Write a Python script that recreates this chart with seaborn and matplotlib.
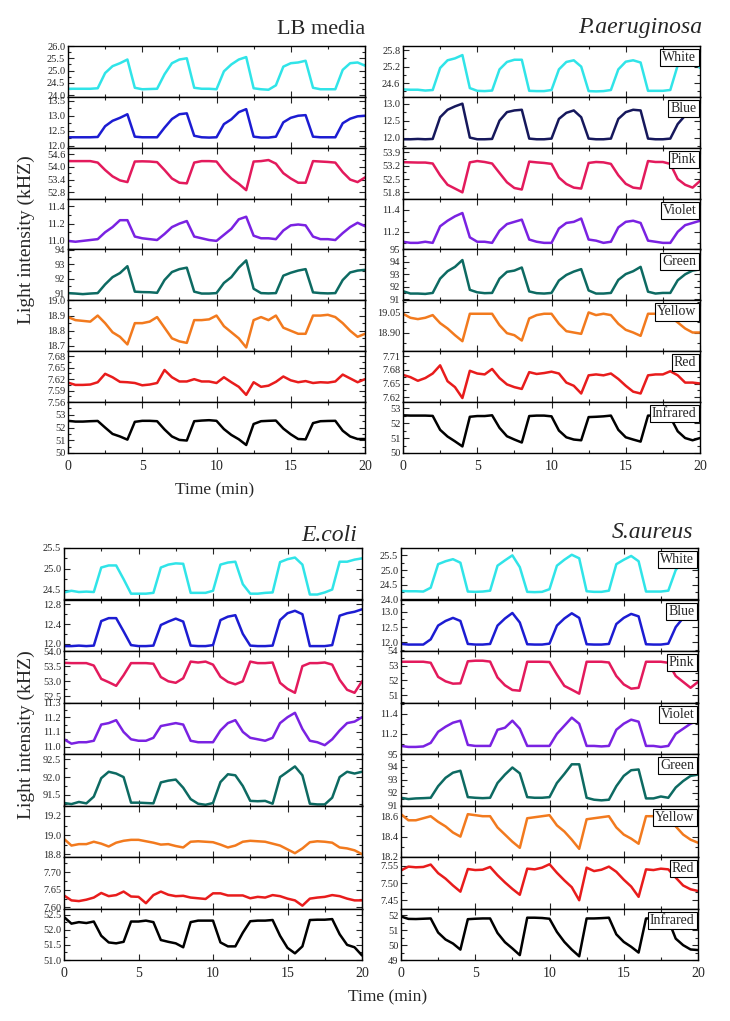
import numpy as np
import matplotlib
matplotlib.use('Agg')
import matplotlib.pyplot as plt
from matplotlib.ticker import FixedLocator, AutoMinorLocator, FormatStrFormatter, MultipleLocator
import seaborn as sns

sns.set_style('ticks')
plt.rcParams['font.family'] = ['Liberation Serif', 'DejaVu Serif']

# sampling grid (minutes)
minutes = np.linspace(0, 20, 41)

channels = ['White', 'Blue', 'Pink', 'Violet', 'Green', 'Yellow', 'Red', 'Infrared']

# ---------------- LB media ----------------
lb_white = [
    24.26, 24.26, 24.26, 24.26, 24.28, 24.90, 25.18, 25.30, 25.45, 24.30,
    24.24, 24.25, 24.26, 24.85, 25.30, 25.45, 25.50, 24.30, 24.26, 24.26,
    24.24, 24.97, 25.25, 25.45, 25.55, 24.28, 24.24, 24.22, 24.40, 25.16,
    25.30, 25.33, 25.40, 24.30, 24.24, 24.24, 24.24, 25.03, 25.30, 25.33,
    25.20]
lb_blue = [
    12.28, 12.28, 12.28, 12.28, 12.29, 12.65, 12.83, 12.93, 13.05, 12.30,
    12.28, 12.28, 12.28, 12.60, 12.89, 13.05, 13.08, 12.33, 12.28, 12.27,
    12.28, 12.72, 12.88, 13.12, 13.22, 12.30, 12.27, 12.27, 12.30, 12.78,
    12.93, 13.00, 13.02, 12.30, 12.28, 12.28, 12.28, 12.75, 12.90, 12.98,
    13.00]
lb_pink = [
    54.27, 54.27, 54.27, 54.27, 54.20, 53.85, 53.55, 53.36, 53.28, 54.25,
    54.26, 54.25, 54.22, 53.85, 53.45, 53.25, 53.22, 54.20, 54.27, 54.27,
    54.25, 53.80, 53.45, 53.20, 52.90, 54.25, 54.27, 54.32, 54.15, 53.70,
    53.45, 53.25, 53.25, 54.27, 54.25, 54.23, 54.20, 53.75, 53.40, 53.28,
    53.50]
lb_violet = [
    11.00, 10.99, 11.00, 11.01, 11.02, 11.10, 11.16, 11.24, 11.24, 11.05,
    11.03, 11.02, 11.01, 11.08, 11.16, 11.20, 11.23, 11.05, 11.03, 11.01,
    11.00, 11.07, 11.14, 11.25, 11.28, 11.06, 11.03, 11.03, 11.02, 11.12,
    11.18, 11.19, 11.18, 11.05, 11.02, 11.02, 11.01, 11.09, 11.16, 11.21,
    11.17]
lb_green = [
    91.00, 90.97, 90.93, 90.97, 91.00, 91.60, 92.10, 92.38, 92.85, 91.10,
    91.07, 91.06, 91.02, 91.90, 92.45, 92.65, 92.75, 91.10, 90.97, 90.97,
    91.00, 91.70, 92.10, 92.75, 93.25, 91.30, 91.00, 90.98, 91.00, 92.20,
    92.40, 92.55, 92.65, 91.05, 91.00, 90.98, 91.00, 91.90, 92.42, 92.55,
    92.60]
lb_yellow = [
    18.890, 18.870, 18.865, 18.860, 18.900, 18.850, 18.790, 18.760, 18.710, 18.850,
    18.850, 18.860, 18.890, 18.820, 18.750, 18.730, 18.720, 18.870, 18.870, 18.875,
    18.900, 18.830, 18.790, 18.750, 18.690, 18.870, 18.890, 18.870, 18.900, 18.820,
    18.800, 18.780, 18.780, 18.900, 18.900, 18.905, 18.890, 18.850, 18.800, 18.760,
    18.780]
lb_red = [
    7.611, 7.605, 7.605, 7.606, 7.612, 7.634, 7.625, 7.613, 7.612, 7.610,
    7.604, 7.606, 7.610, 7.644, 7.625, 7.614, 7.614, 7.620, 7.614, 7.614,
    7.610, 7.625, 7.612, 7.600, 7.579, 7.612, 7.600, 7.603, 7.613, 7.627,
    7.617, 7.612, 7.615, 7.610, 7.612, 7.611, 7.614, 7.632, 7.622, 7.612,
    7.620]
lb_infrared = [
    52.53, 52.47, 52.47, 52.50, 52.52, 52.00, 51.50, 51.30, 51.05, 52.45,
    52.53, 52.53, 52.50, 51.85, 51.30, 51.03, 50.98, 52.50, 52.55, 52.58,
    52.53, 51.88, 51.42, 51.08, 50.63, 52.28, 52.50, 52.53, 52.55, 51.92,
    51.47, 51.10, 51.07, 52.35, 52.50, 52.52, 52.53, 51.75, 51.30, 51.10,
    51.10]

# ---------------- P. aeruginosa ----------------
pa_white = [
    24.37, 24.36, 24.36, 24.33, 24.35, 25.15, 25.43, 25.50, 25.62, 24.42,
    24.32, 24.31, 24.33, 25.10, 25.37, 25.45, 25.45, 24.32, 24.31, 24.31,
    24.35, 25.10, 25.37, 25.43, 25.20, 24.31, 24.30, 24.31, 24.35, 25.10,
    25.38, 25.43, 25.35, 24.32, 24.32, 24.32, 24.35, 25.25, 25.45, 25.45,
    25.15]
pa_blue = [
    11.95, 11.95, 11.96, 11.95, 11.96, 12.60, 12.82, 12.92, 13.00, 12.00,
    11.95, 11.95, 11.96, 12.50, 12.75, 12.80, 12.82, 11.97, 11.95, 11.95,
    11.97, 12.55, 12.73, 12.80, 12.60, 11.97, 11.95, 11.95, 11.97, 12.55,
    12.75, 12.82, 12.80, 11.97, 11.95, 11.95, 11.97, 12.40, 12.65, 12.70,
    12.63]
pa_pink = [
    53.39, 53.38, 53.37, 53.37, 53.32, 52.70, 52.20, 52.00, 51.80, 53.38,
    53.45, 53.40, 53.32, 52.82, 52.33, 52.03, 51.95, 53.42, 53.38, 53.35,
    53.30, 52.58, 52.24, 52.05, 52.00, 53.35, 53.40, 53.38, 53.30, 52.70,
    52.25, 52.05, 52.00, 53.45, 53.40, 53.40, 53.30, 52.50, 52.20, 52.05,
    52.40]
pa_violet = [
    11.11, 11.10, 11.10, 11.11, 11.10, 11.25, 11.30, 11.34, 11.37, 11.15,
    11.11, 11.11, 11.10, 11.21, 11.27, 11.29, 11.31, 11.13, 11.11, 11.10,
    11.10, 11.23, 11.28, 11.29, 11.32, 11.13, 11.12, 11.10, 11.11, 11.24,
    11.29, 11.30, 11.28, 11.12, 11.11, 11.10, 11.10, 11.20, 11.26, 11.28,
    11.30]
pa_green = [
    91.64, 91.45, 91.45, 91.42, 91.50, 92.65, 93.25, 93.60, 94.15, 91.75,
    91.55, 91.48, 91.50, 92.65, 93.20, 93.30, 93.55, 91.62, 91.48, 91.45,
    91.50, 92.50, 92.95, 93.22, 93.42, 91.70, 91.45, 91.45, 91.50, 92.55,
    93.02, 93.25, 93.60, 91.60, 91.45, 91.50, 91.50, 92.52, 93.00, 93.30,
    93.40]
pa_yellow = [
    19.040, 19.010, 19.000, 19.010, 19.030, 18.970, 18.930, 18.880, 18.835, 19.040,
    19.040, 19.040, 19.040, 18.955, 18.895, 18.880, 18.840, 19.005, 19.030, 19.040,
    19.040, 18.965, 18.910, 18.900, 18.890, 19.050, 19.030, 19.040, 19.030, 18.965,
    18.920, 18.900, 18.875, 19.040, 19.040, 19.040, 19.020, 18.975, 18.930, 18.900,
    18.900]
pa_red = [
    7.669, 7.664, 7.656, 7.662, 7.672, 7.690, 7.655, 7.642, 7.618, 7.678,
    7.672, 7.670, 7.682, 7.662, 7.648, 7.642, 7.638, 7.675, 7.671, 7.673,
    7.676, 7.672, 7.652, 7.645, 7.628, 7.668, 7.670, 7.668, 7.672, 7.660,
    7.645, 7.632, 7.628, 7.668, 7.670, 7.670, 7.677, 7.668, 7.652, 7.652,
    7.650]
pa_infrared = [
    52.52, 52.50, 52.50, 52.50, 52.48, 51.55, 51.10, 50.78, 50.44, 52.42,
    52.47, 52.47, 52.52, 51.68, 51.12, 50.90, 50.70, 52.47, 52.50, 52.50,
    52.45, 51.50, 51.05, 50.90, 50.85, 52.40, 52.42, 52.45, 52.50, 51.55,
    51.05, 50.90, 50.76, 52.50, 52.50, 52.50, 52.40, 51.45, 51.00, 50.85,
    51.00]

# ---------------- E. coli ----------------
ec_white = [
    24.43, 24.47, 24.44, 24.45, 24.44, 25.03, 25.08, 25.08, 24.75, 24.40,
    24.40, 24.40, 24.42, 25.03, 25.10, 25.13, 25.12, 24.42, 24.42, 24.42,
    24.47, 25.10, 25.15, 25.17, 24.63, 24.40, 24.40, 24.42, 24.43, 25.16,
    25.23, 25.27, 25.10, 24.38, 24.38, 24.43, 24.50, 25.17, 25.17, 25.22,
    25.25]
ec_blue = [
    11.95, 11.95, 11.96, 11.95, 11.96, 12.46, 12.52, 12.52, 12.25, 11.97,
    11.95, 11.95, 11.96, 12.38, 12.45, 12.51, 12.45, 11.96, 11.95, 11.95,
    11.97, 12.48, 12.55, 12.58, 12.20, 11.96, 11.95, 11.95, 11.96, 12.48,
    12.62, 12.67, 12.60, 11.95, 11.95, 11.95, 11.97, 12.57, 12.62, 12.65,
    12.70]
ec_pink = [
    53.61, 53.60, 53.60, 53.60, 53.52, 53.08, 52.97, 52.85, 53.20, 53.60,
    53.60, 53.60, 53.58, 53.14, 53.00, 52.95, 53.10, 53.65, 53.62, 53.65,
    53.55, 53.15, 52.98, 52.90, 53.00, 53.65, 53.60, 53.60, 53.62, 52.95,
    52.75, 52.62, 53.50, 53.60, 53.60, 53.62, 53.55, 53.05, 52.72, 52.62,
    53.00]
ec_violet = [
    11.05, 11.02, 11.03, 11.03, 11.04, 11.15, 11.16, 11.18, 11.10, 11.05,
    11.04, 11.04, 11.06, 11.14, 11.15, 11.16, 11.15, 11.04, 11.03, 11.03,
    11.03, 11.11, 11.16, 11.18, 11.10, 11.06, 11.05, 11.04, 11.06, 11.16,
    11.20, 11.23, 11.12, 11.04, 11.03, 11.01, 11.05, 11.11, 11.16, 11.17,
    11.20]
ec_green = [
    91.27, 91.24, 91.30, 91.26, 91.45, 91.97, 92.15, 92.10, 92.00, 91.28,
    91.28, 91.27, 91.26, 91.85, 91.90, 91.93, 91.70, 91.38, 91.25, 91.22,
    91.27, 91.86, 92.08, 92.05, 91.75, 91.33, 91.32, 91.33, 91.25, 92.00,
    92.15, 92.30, 92.05, 91.25, 91.23, 91.23, 91.42, 92.00, 92.15, 92.10,
    92.15]
ec_yellow = [
    18.960, 18.890, 18.905, 18.905, 18.930, 18.910, 18.880, 18.920, 18.940, 18.950,
    18.950, 18.935, 18.920, 18.900, 18.905, 18.885, 18.870, 18.930, 18.935, 18.930,
    18.925, 18.900, 18.870, 18.890, 18.930, 18.940, 18.935, 18.930, 18.910, 18.890,
    18.850, 18.810, 18.860, 18.925, 18.935, 18.930, 18.920, 18.870, 18.860, 18.840,
    18.800]
ec_red = [
    7.634, 7.620, 7.618, 7.622, 7.628, 7.641, 7.632, 7.635, 7.645, 7.631,
    7.630, 7.612, 7.635, 7.645, 7.636, 7.632, 7.633, 7.628, 7.626, 7.624,
    7.640, 7.640, 7.634, 7.634, 7.634, 7.626, 7.630, 7.628, 7.635, 7.632,
    7.625, 7.620, 7.605, 7.625, 7.628, 7.630, 7.635, 7.632, 7.625, 7.620,
    7.620]
ec_infrared = [
    52.42, 52.20, 52.25, 52.22, 52.27, 51.80, 51.58, 51.55, 51.60, 52.27,
    52.27, 52.30, 52.25, 51.66, 51.60, 51.55, 51.42, 52.25, 52.30, 52.30,
    52.30, 51.58, 51.45, 51.45, 51.90, 52.28, 52.30, 52.30, 52.32, 51.80,
    51.40, 51.22, 51.45, 52.32, 52.33, 52.33, 52.35, 51.85, 51.50, 51.42,
    51.15]

# ---------------- S. aureus ----------------
sa_white = [
    24.29, 24.28, 24.28, 24.27, 24.40, 25.20, 25.30, 25.37, 25.25, 24.27,
    24.26, 24.27, 24.30, 25.15, 25.33, 25.50, 25.10, 24.26, 24.25, 24.26,
    24.35, 25.15, 25.35, 25.52, 25.40, 24.28, 24.26, 24.26, 24.30, 25.20,
    25.35, 25.48, 25.30, 24.27, 24.27, 24.27, 24.30, 25.00, 25.30, 25.40,
    25.05]
sa_blue = [
    11.95, 11.93, 11.93, 11.93, 12.10, 12.55, 12.70, 12.80, 12.70, 11.95,
    11.93, 11.93, 11.95, 12.55, 12.78, 12.96, 12.65, 11.94, 11.93, 11.93,
    11.96, 12.55, 12.78, 12.95, 12.80, 11.94, 11.93, 11.93, 11.95, 12.60,
    12.80, 12.93, 12.85, 11.94, 11.93, 11.93, 11.96, 12.50, 12.80, 12.95,
    12.90]
sa_pink = [
    53.27, 53.27, 53.27, 53.27, 53.20, 52.24, 51.94, 51.78, 51.80, 53.30,
    53.34, 53.34, 53.28, 52.20, 51.67, 51.35, 51.30, 53.27, 53.27, 53.27,
    53.25, 52.40, 51.63, 51.37, 51.10, 53.27, 53.27, 53.27, 53.22, 52.30,
    51.73, 51.44, 51.50, 53.27, 53.27, 53.27, 53.20, 52.30, 51.90, 51.50,
    51.90]
sa_violet = [
    11.08, 11.07, 11.07, 11.075, 11.11, 11.22, 11.27, 11.31, 11.33, 11.09,
    11.08, 11.08, 11.08, 11.24, 11.26, 11.33, 11.25, 11.08, 11.08, 11.08,
    11.08, 11.20, 11.28, 11.36, 11.30, 11.08, 11.08, 11.075, 11.08, 11.24,
    11.30, 11.34, 11.32, 11.08, 11.08, 11.07, 11.08, 11.20, 11.25, 11.30,
    11.33]
sa_green = [
    91.60, 91.50, 91.55, 91.57, 91.60, 92.50, 93.15, 93.55, 93.70, 91.65,
    91.60, 91.57, 91.60, 92.75, 93.40, 93.95, 93.50, 91.65, 91.60, 91.60,
    91.65, 92.75, 93.45, 94.20, 94.20, 91.60, 91.45, 91.40, 91.45, 92.50,
    93.30, 93.74, 93.80, 91.55, 91.55, 91.70, 91.60, 92.40, 92.90, 93.30,
    93.40]
sa_yellow = [
    18.620, 18.560, 18.560, 18.580, 18.600, 18.545, 18.500, 18.440, 18.400, 18.620,
    18.610, 18.600, 18.600, 18.490, 18.420, 18.350, 18.290, 18.580, 18.590, 18.600,
    18.610, 18.510, 18.450, 18.370, 18.280, 18.570, 18.580, 18.590, 18.600, 18.490,
    18.420, 18.380, 18.330, 18.600, 18.600, 18.600, 18.580, 18.500, 18.420, 18.370,
    18.340]
sa_red = [
    7.537, 7.548, 7.546, 7.547, 7.554, 7.529, 7.513, 7.493, 7.475, 7.541,
    7.538, 7.539, 7.547, 7.523, 7.502, 7.483, 7.466, 7.542, 7.540, 7.545,
    7.555, 7.530, 7.508, 7.488, 7.450, 7.545, 7.535, 7.539, 7.548, 7.533,
    7.510, 7.490, 7.460, 7.540, 7.538, 7.542, 7.540, 7.516, 7.493, 7.482,
    7.477]
sa_infrared = [
    51.93, 51.77, 51.76, 51.78, 51.80, 50.85, 50.38, 50.11, 49.70, 51.75,
    51.78, 51.80, 51.80, 50.82, 50.20, 49.78, 49.33, 51.85, 51.85, 51.83,
    51.78, 50.89, 50.22, 49.70, 49.25, 51.80, 51.80, 51.82, 51.85, 50.73,
    50.22, 49.89, 49.50, 51.80, 51.80, 51.80, 51.70, 50.44, 50.00, 49.71,
    49.67]

# y ticks shown on each strip
lb_ticks = [[24.0, 24.5, 25.0, 25.5, 26.0], [12.0, 12.5, 13.0, 13.5], [52.8, 53.4, 54.0, 54.6],
            [11.0, 11.2, 11.4], [91, 92, 93, 94], [18.7, 18.8, 18.9, 19.0],
            [7.56, 7.59, 7.62, 7.65, 7.68], [50, 51, 52, 53]]
pa_ticks = [[24.6, 25.2, 25.8], [12.0, 12.5, 13.0], [51.8, 52.5, 53.2, 53.9],
            [11.2, 11.4], [91, 92, 93, 94, 95], [18.90, 19.05],
            [7.62, 7.65, 7.68, 7.71], [50, 51, 52, 53]]
ec_ticks = [[24.5, 25.0, 25.5], [12.0, 12.4, 12.8], [52.5, 53.0, 53.5, 54.0],
            [11.0, 11.1, 11.2, 11.3], [91.5, 92.0, 92.5], [18.8, 19.0, 19.2],
            [7.60, 7.65, 7.70], [51.0, 51.5, 52.0, 52.5]]
sa_ticks = [[24.0, 24.5, 25.0, 25.5], [12.0, 12.5, 13.0], [51, 52, 53, 54],
            [11.2, 11.4], [91, 92, 93, 94, 95], [18.2, 18.4, 18.6],
            [7.45, 7.50, 7.55], [49, 50, 51, 52]]

# axis ranges of each strip
lb_lims = [(23.93, 26.0), (11.93, 13.63), (52.5, 54.9), (10.9, 11.49),
           (90.5, 94.0), (18.665, 19.0), (7.56, 7.693), (50, 54)]
pa_lims = [(24.1, 25.95), (11.7, 13.2), (51.47, 54.15), (11.04, 11.5),
           (90.9, 95.0), (18.76, 19.14), (7.609, 7.721), (50, 53.4)]
ec_lims = [(24.26, 25.5), (11.85, 12.9), (52.3, 54.0), (10.95, 11.3),
           (91.2, 92.65), (18.77, 19.31), (7.597, 7.743), (51.0, 52.7)]
sa_lims = [(24.0, 25.75), (11.72, 13.4), (50.5, 54.0), (11.0, 11.51),
           (91.0, 95.0), (18.2, 18.705), (7.426, 7.576), (49.0, 52.47)]

lb_fmt = ['%.1f', '%.1f', '%.1f', '%.1f', '%d', '%.1f', '%.2f', '%d']
pa_fmt = ['%.1f', '%.1f', '%.1f', '%.1f', '%d', '%.2f', '%.2f', '%d']
ec_fmt = ['%.1f', '%.1f', '%.1f', '%.1f', '%.1f', '%.1f', '%.2f', '%.1f']
sa_fmt = ['%.1f', '%.1f', '%d', '%.1f', '%d', '%.1f', '%.2f', '%d']

colors = ['#30E4E8', '#1C1CD2', '#E31A5C', '#7A22E2', '#0D6A62', '#F27A1E', '#E81C1C', '#000000']
colors_pa = ['#30E4E8', '#16185C', '#E31A5C', '#7A22E2', '#0D6A62', '#F27A1E', '#E81C1C', '#000000']

W, H = 730, 1021
fig = plt.figure(figsize=(W / 100, H / 100), dpi=100)


def draw_panel(series, left, top, right, bottom, lims, ticks, fmts, cols, names):
    n = len(series)
    h = (bottom - top) / n
    for i, vals in enumerate(series):
        y0 = top + i * h
        ax = fig.add_axes([left / W, 1 - (y0 + h) / H, (right - left) / W, h / H])
        sns.lineplot(x=minutes, y=vals, ax=ax, color=cols[i], linewidth=1.8)
        ax.set_xlim(0, 20)
        ax.set_ylim(*lims[i])
        ax.yaxis.set_major_locator(FixedLocator(ticks[i]))
        ax.yaxis.set_major_formatter(FormatStrFormatter(fmts[i]))
        ax.yaxis.set_minor_locator(AutoMinorLocator(2))
        ax.xaxis.set_major_locator(MultipleLocator(5))
        ax.xaxis.set_minor_locator(MultipleLocator(2.5))
        ax.tick_params(which='both', direction='in', top=True, right=True, width=0.8)
        ax.tick_params(which='major', length=4)
        ax.tick_params(which='minor', length=2)
        ax.tick_params(axis='y', labelsize=7.5, pad=2)
        ax.tick_params(axis='x', labelsize=10, pad=5, labelbottom=(i == n - 1))
        ax.set_xlabel('')
        ax.set_ylabel('')
        for sp in ax.spines.values():
            sp.set_linewidth(1.0)
            sp.set_color('black')
        if names:
            ax.text(0.988, 0.9, channels[i], transform=ax.transAxes, ha='right', va='top',
                    fontsize=10, zorder=5,
                    bbox=dict(boxstyle='square,pad=0.15', fc='white', ec='black', lw=0.8))


draw_panel([lb_white, lb_blue, lb_pink, lb_violet, lb_green, lb_yellow, lb_red, lb_infrared],
           68, 46, 365, 453, lb_lims, lb_ticks, lb_fmt, colors, False)
draw_panel([pa_white, pa_blue, pa_pink, pa_violet, pa_green, pa_yellow, pa_red, pa_infrared],
           403, 46, 700, 453, pa_lims, pa_ticks, pa_fmt, colors_pa, True)
draw_panel([ec_white, ec_blue, ec_pink, ec_violet, ec_green, ec_yellow, ec_red, ec_infrared],
           64, 548, 362, 960, ec_lims, ec_ticks, ec_fmt, colors, False)
draw_panel([sa_white, sa_blue, sa_pink, sa_violet, sa_green, sa_yellow, sa_red, sa_infrared],
           401, 548, 698, 960, sa_lims, sa_ticks, sa_fmt, colors, True)

# titles
fig.text(365 / W, 1 - 29 / H, 'LB media', ha='right', va='center', fontsize=16)
fig.text(702 / W, 1 - 28 / H, 'P.aeruginosa', ha='right', va='center', fontsize=17, style='italic')
fig.text(357 / W, 1 - 535 / H, 'E.coli', ha='right', va='center', fontsize=17, style='italic')
fig.text(693 / W, 1 - 532 / H, 'S.aureus', ha='right', va='center', fontsize=17, style='italic')

# axis labels
fig.text(26 / W, 1 - 240 / H, 'Light intensity (kHZ)', rotation=90, ha='center', va='center', fontsize=14)
fig.text(26 / W, 1 - 735 / H, 'Light intensity (kHZ)', rotation=90, ha='center', va='center', fontsize=14)
fig.text(215 / W, 1 - 490 / H, 'Time (min)', ha='center', va='center', fontsize=12.5)
fig.text(388 / W, 1 - 997 / H, 'Time (min)', ha='center', va='center', fontsize=12.5)

fig.savefig('out.png', dpi=100, facecolor='white')
